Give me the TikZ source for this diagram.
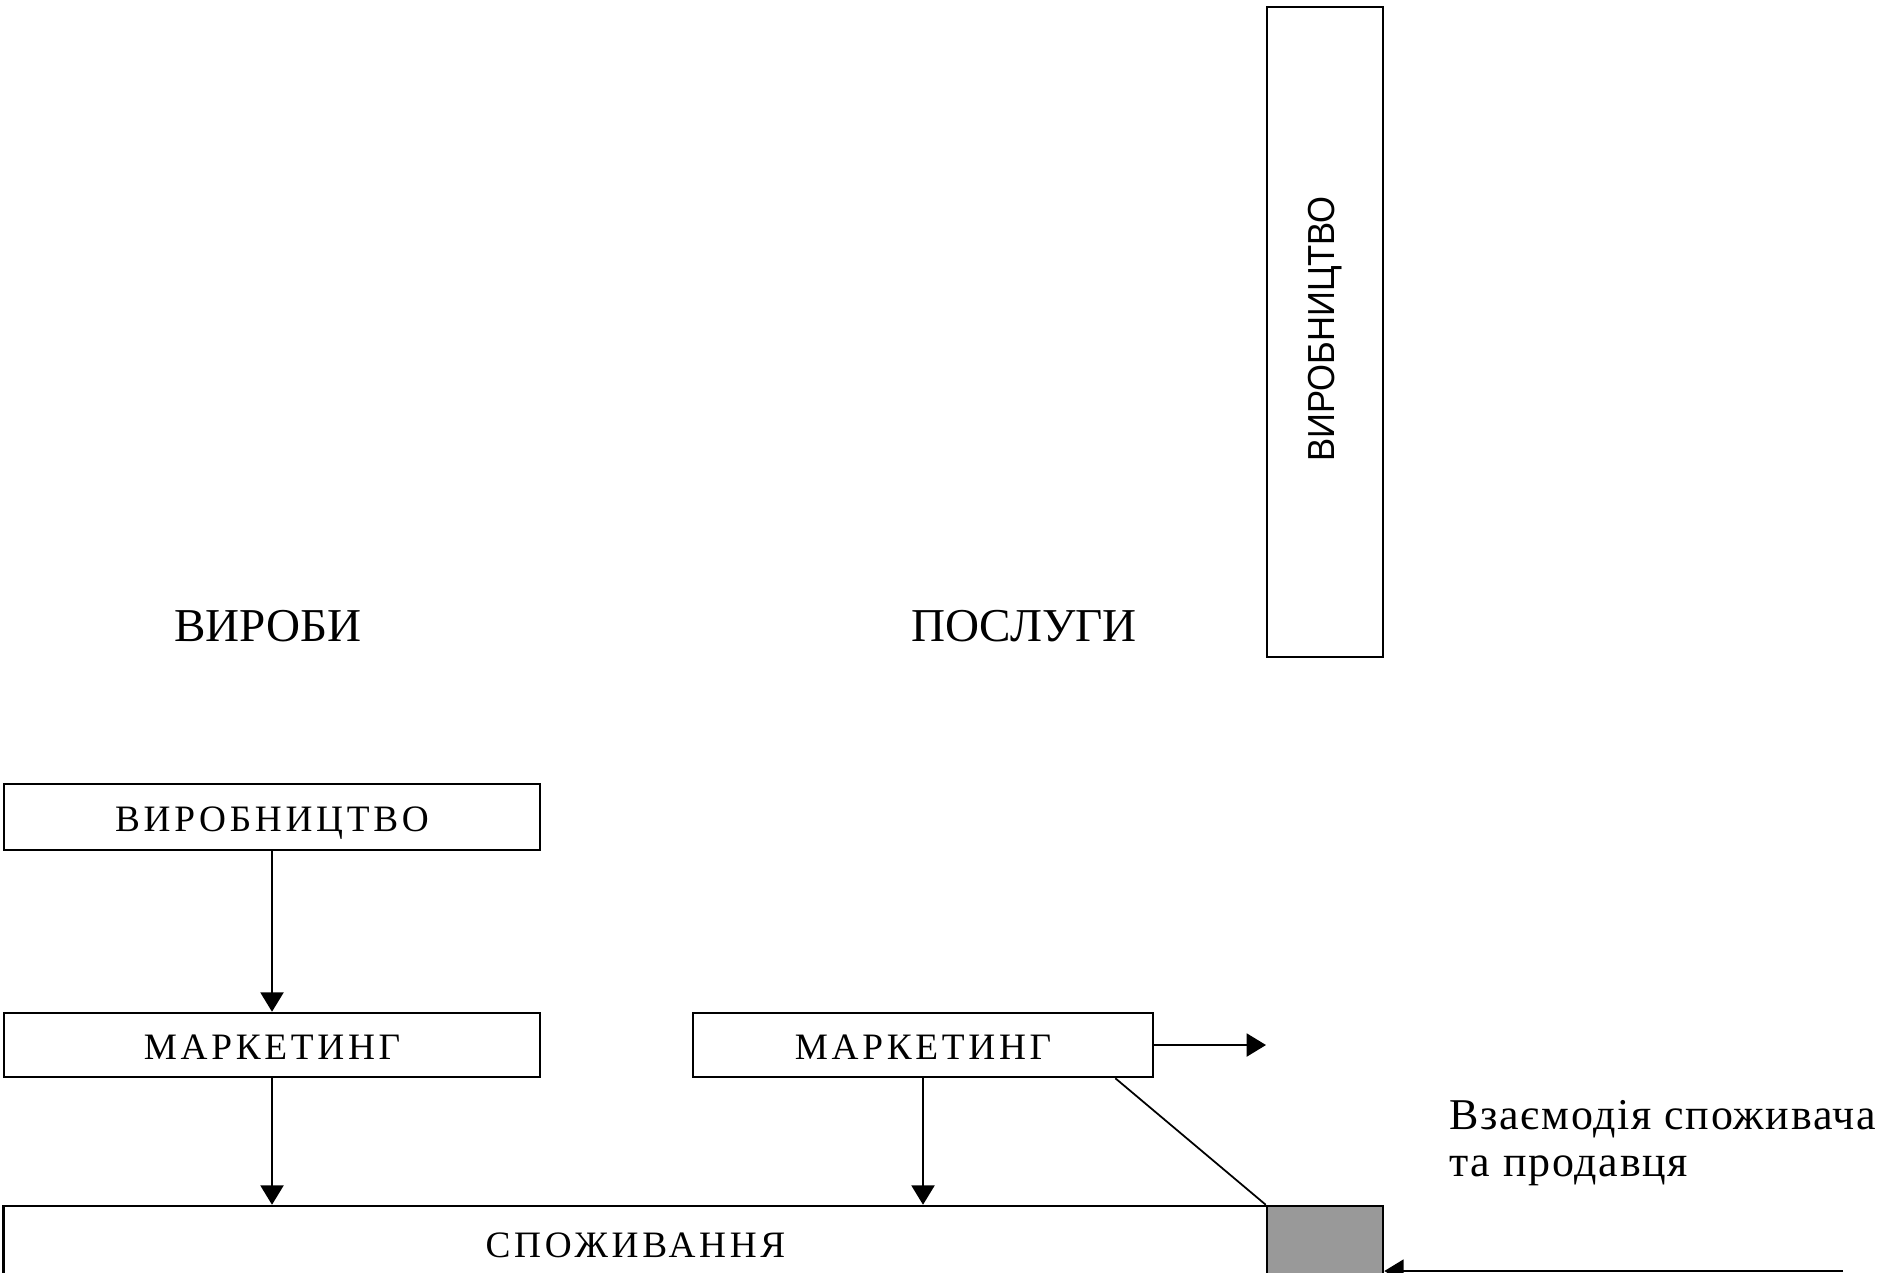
\documentclass[tikz,border=0pt]{standalone}
\usepackage{fontspec}
\setmainfont{Liberation Serif}
\newfontfamily\boxfont[LetterSpace=10]{Liberation Serif}
\newfontfamily\labfont{Liberation Serif}
\newfontfamily\interfont[LetterSpace=4]{Liberation Serif}
\newfontfamily\vertfont[FakeStretch=0.92]{Liberation Sans}
\usetikzlibrary{arrows.meta}
\begin{document}
\begin{tikzpicture}[x=0.01cm,y=-0.01cm,
  box/.style={draw, line width=0.7pt, inner sep=0pt, text depth=0pt, font=\boxfont\fontsize{10.6}{12}\selectfont},
  arr/.style={line width=0.7pt, -{Triangle[length=5.5pt,width=6.5pt]}},
  plain/.style={line width=0.5pt}]
\useasboundingbox (0,0) rectangle (1895,1272);
\node[draw, line width=0.7pt, minimum width=1.16cm, minimum height=6.50cm, inner sep=0pt] (prodTop) at (1325,332) {};
\node[rotate=90, font=\vertfont\fontsize{10.7}{12}\selectfont] (prodTopTxt) at (1325,329) {ВИРОБНИЦТВО};
\node[font=\labfont\fontsize{13.4}{15}\selectfont] (vyroby) at (268,626) {ВИРОБИ};
\node[font=\labfont\fontsize{13.4}{15}\selectfont] (posluhy) at (1024,626) {ПОСЛУГИ};
\node[box, minimum width=5.36cm, minimum height=0.66cm] (prodL) at (272,817) {\raisebox{-1.2pt}{ВИРОБНИЦТВО}};
\node[box, minimum width=5.36cm, minimum height=0.64cm] (mktL) at (272,1045) {\raisebox{-1.2pt}{МАРКЕТИНГ}};
\node[box, minimum width=4.60cm, minimum height=0.64cm] (mktR) at (923,1045) {\raisebox{-1.2pt}{МАРКЕТИНГ}};
\node[box, minimum width=12.63cm, minimum height=0.79cm] (cons) at (635.5,1245.5) {СПОЖИВАННЯ};
\node[draw, line width=0.7pt, fill=gray!80, minimum width=1.16cm, minimum height=0.79cm, inner sep=0pt] (grayb) at (1325,1245.5) {};
\coordinate (outR) at (1266,1045);
\coordinate (bottomR) at (1843,1271);
\node[anchor=west, align=left, font=\interfont\fontsize{12.5}{13.4}\selectfont] (inter) at (1437,1143) {Взаємодія споживача\\та продавця};
\draw[arr] (prodL.south) -- (mktL.north);
\draw[arr] (mktL.south) -- (mktL.south |- cons.north);
\draw[arr] (mktR.south) -- (mktR.south |- cons.north);
\draw[arr] (mktR.east) -- (outR);
\draw[plain] ([xshift=-0.39cm]mktR.south east) -- (grayb.north west);
\draw[arr] (bottomR) -- (grayb.east |- bottomR);
\end{tikzpicture}
\end{document}
